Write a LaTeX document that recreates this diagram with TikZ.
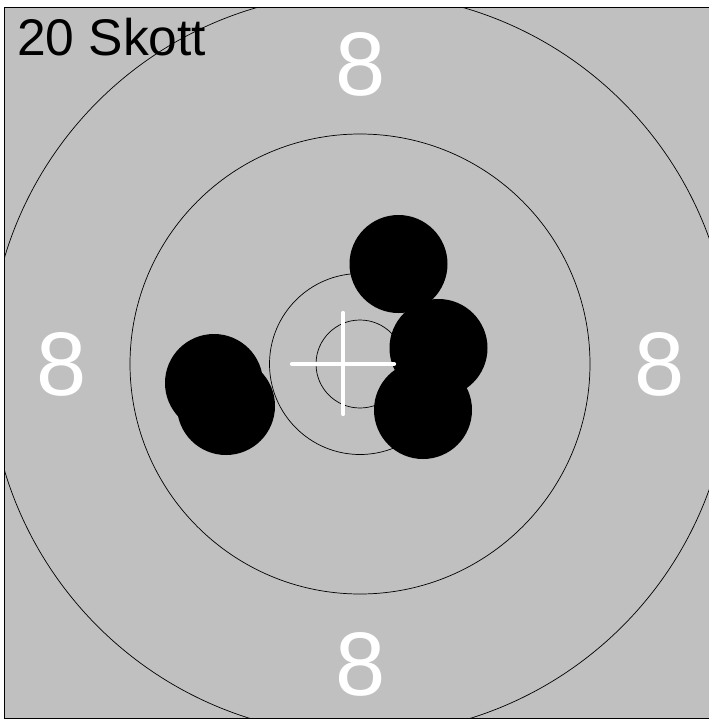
\documentclass[tikz,border=0pt]{standalone}
\usepackage{fontspec}
\setmainfont{Liberation Sans}
\definecolor{targetgray}{HTML}{C0C0C0}

\begin{document}
\begin{tikzpicture}[x=0.03cm,y=-0.03cm]
\useasboundingbox (0,0) rectangle (709,720);
\fill[white] (0,0) rectangle (709,720);
\coordinate (mid) at (360,364);
\begin{scope}
\clip (4.5,7.5) rectangle (709,718.5);
\fill[targetgray] (4.5,7.5) rectangle (715,718.5);
\foreach \r in {44,90.5,230,371}
  \draw[line width=0.6pt] (mid) circle (\r);
% shots
\foreach \x/\y in {398.5/264,438.5/348,423/410,214/383,226/406}
  \fill[black] (\x,\y) circle (49);
\end{scope}
\draw[line width=1.2pt] (715,7.5) -- (4.5,7.5) -- (4.5,718.5) -- (715,718.5);
% sight cross
\draw[white,line width=3.6pt,line cap=round] (292,364) -- (394,364);
\draw[white,line width=3.6pt,line cap=round] (343.3,313) -- (343.3,414);
\foreach \n/\x/\y in {top/361/64,left/62/364,right/660/364,bottom/361/664}
  \node[white,inner sep=0pt,font=\fontsize{77}{77}\selectfont] (\n8) at (\x,\y) {8};
\node[anchor=base west,inner sep=0pt,font=\fontsize{44}{44}\selectfont] (title) at (17,55) {20 Skott};
\end{tikzpicture}
\end{document}
